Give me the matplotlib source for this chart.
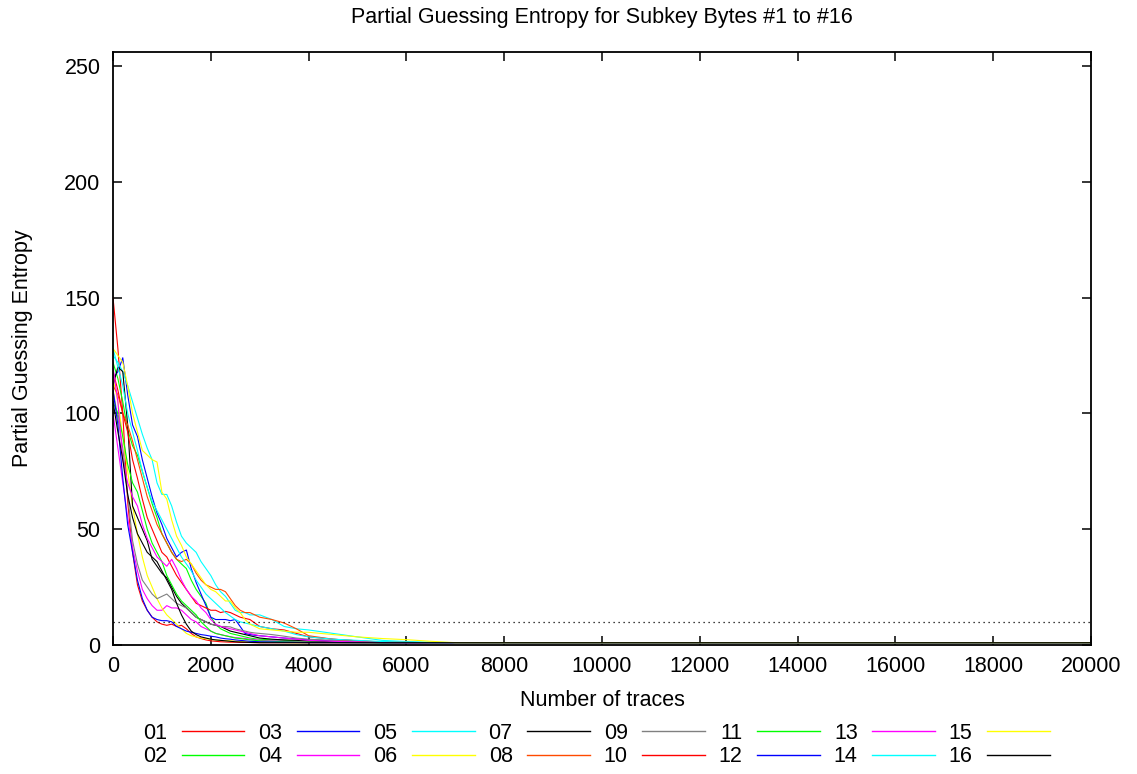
import matplotlib
matplotlib.use("Agg")
import matplotlib.pyplot as plt

# ---------------- data ----------------
traces = [0, 100, 200, 300, 400, 500, 600, 700, 800, 900,
          1000, 1100, 1200, 1300, 1400, 1500, 1600, 1700, 1800, 1900,
          2000, 2100, 2200, 2300, 2400, 2500, 2600, 2700, 2800, 2900,
          3000, 3250, 3500, 3750, 4000, 4500, 5000, 5500, 6000, 6500,
          7000, 20000]

pge_01 = [150, 128, 100, 62, 40, 26, 19, 15, 12, 10,
          9, 8.5, 9, 8, 8.5, 7, 5, 3.5, 2.8, 2.2,
          1.8, 1.6, 1.4, 1.3, 1.2, 1.2, 1.1, 1.1, 1.1, 1,
          1, 1, 1, 1, 1, 1, 1, 1, 1, 1, 1, 1]
pge_02 = [122, 115, 105, 93, 86, 82, 75, 68, 61, 55,
          48, 44, 40, 37, 35, 33, 28, 24, 21, 18,
          12, 9, 7, 6, 5, 4.5, 4, 3.5, 3, 2.7,
          2.5, 2.2, 2, 1.8, 1.5, 1.2, 1.1, 1, 1, 1, 1, 1]
pge_03 = [115, 118, 124, 108, 95, 90, 80, 72, 64, 57,
          52, 46, 42, 38, 40, 41, 33, 27, 22, 17,
          12, 11, 11, 11, 10.5, 11, 8, 5, 4.5, 4.2,
          4, 3.5, 3, 2.6, 2.2, 1.8, 1.4, 1.1, 1, 1, 1, 1]
pge_04 = [100, 85, 70, 55, 42, 32, 24, 20, 17, 15,
          15, 17, 16, 16, 15, 13, 11, 10, 8, 7,
          6, 5, 4.5, 4, 3.6, 3.2, 3, 2.8, 2.5, 2.3,
          2, 1.8, 1.6, 1.4, 1.3, 1.1, 1, 1, 1, 1, 1, 1]
pge_05 = [125, 122, 118, 112, 105, 98, 91, 85, 80, 70,
          65, 65, 60, 53, 47, 44, 42, 40, 36, 33,
          30, 26, 23, 21, 18, 15, 14, 14, 13, 13,
          13, 11, 8, 7, 6.5, 5, 3.5, 2, 1.5, 1.2, 1, 1]
pge_06 = [115, 105, 90, 75, 60, 48, 38, 30, 25, 20,
          16, 13, 11, 9, 7, 5, 4, 3.5, 3, 2.7,
          2.4, 2.2, 2, 1.9, 1.8, 1.7, 1.6, 1.5, 1.4, 1.4,
          1.3, 1.2, 1.1, 1, 1, 1, 1, 1, 1, 1, 1, 1]
pge_07 = [112, 120, 118, 95, 60, 55, 50, 45, 37, 34,
          31, 29, 25, 21, 18, 16, 14, 12, 11, 10,
          9, 8.5, 8, 7, 6, 5.5, 5, 4.5, 4, 3.5,
          3, 2.5, 2.2, 2, 1.8, 1.4, 1.2, 1, 1, 1, 1, 1]
pge_08 = [112, 108, 100, 95, 88, 80, 72, 64, 58, 52,
          48, 44, 40, 37, 36, 37, 35, 31, 28, 26,
          25, 24, 24, 23, 20, 17, 15, 14, 14, 13,
          12, 11, 9.5, 7, 4, 2.5, 1.8, 1.3, 1.1, 1, 1, 1]
pge_09 = [110, 98, 85, 65, 45, 35, 28, 25, 22, 20,
          21, 22, 20, 18, 17, 16, 14, 12, 11, 10,
          9, 8.5, 8, 8, 7.8, 7, 6.5, 6, 5.5, 5.2,
          5, 4.5, 3.8, 3, 2.5, 2, 1.5, 1.2, 1, 1, 1, 1]
pge_10 = [118, 110, 100, 92, 80, 72, 63, 55, 50, 45,
          40, 38, 34, 30, 27, 24, 21, 18, 17, 16,
          15, 15, 14, 14.5, 14, 13, 12, 11.5, 11, 9.5,
          8, 7, 6.5, 5, 3.5, 2.5, 1.8, 1.3, 1.1, 1, 1, 1]
pge_11 = [105, 100, 90, 78, 70, 66, 58, 50, 44, 40,
          36, 30, 26, 22, 19, 17, 15, 13, 10, 8,
          6, 5, 4.5, 4, 3.5, 3, 2.8, 2.5, 2.2, 2,
          1.8, 1.6, 1.4, 1.3, 1.2, 1.1, 1, 1, 1, 1, 1, 1]
pge_12 = [110, 95, 72, 52, 40, 28, 20, 15, 12, 11,
          10.5, 10.5, 10, 8, 7, 6, 5.5, 5, 4.5, 4.2,
          3.8, 3.5, 3, 2.7, 2.5, 2.2, 2, 1.8, 1.6, 1.5,
          1.4, 1.3, 1.2, 1.1, 1, 1, 1, 1, 1, 1, 1, 1]
pge_13 = [120, 105, 80, 70, 64, 60, 52, 46, 42, 38,
          36, 34, 37, 33, 28, 24, 21, 19, 16, 14,
          11, 9, 8, 7.5, 7, 6.5, 6, 5.5, 5, 4.5,
          4, 3.5, 3, 2.5, 2, 1.6, 1.3, 1.1, 1, 1, 1, 1]
pge_14 = [128, 120, 112, 100, 92, 84, 75, 68, 62, 58,
          54, 50, 46, 42, 38, 35, 32, 28, 25, 22,
          20, 18, 16, 14, 12.5, 11, 10, 9.5, 9, 8.5,
          8, 7, 6, 4.5, 3.5, 2.5, 2, 1.5, 1.2, 1, 1, 1]
pge_15 = [128, 125, 122, 112, 100, 92, 84, 82, 80, 79,
          66, 63, 54, 47, 43, 38, 35, 32, 29, 26,
          24, 23, 21, 19, 19, 16, 14, 11, 9, 8,
          7, 6.5, 6, 5.5, 5.5, 4.5, 3.5, 2.8, 2.3, 1.6, 1, 1]
pge_16 = [105, 92, 80, 65, 55, 48, 44, 40, 38, 36,
          32, 28, 24, 18, 13, 9, 6, 4.5, 3.5, 3,
          2.5, 2.2, 2, 1.8, 1.6, 1.4, 1.3, 1.2, 1.1, 1.1,
          1, 1, 1, 1, 1, 1, 1, 1, 1, 1, 1, 1]

series_labels = ["01", "02", "03", "04", "05", "06", "07", "08",
                 "09", "10", "11", "12", "13", "14", "15", "16"]
series_values = [pge_01, pge_02, pge_03, pge_04, pge_05, pge_06, pge_07, pge_08,
                 pge_09, pge_10, pge_11, pge_12, pge_13, pge_14, pge_15, pge_16]
threshold = 10

x_ticks = [0, 2000, 4000, 6000, 8000, 10000, 12000, 14000, 16000, 18000, 20000]
y_ticks = [0, 50, 100, 150, 200, 250]

# ---------------- style ----------------
series_colors = ["#ff0000", "#00ff00", "#0000ff", "#ff00ff", "#00ffff", "#ffff00",
                 "#000000", "#ff4a00", "#808080", "#ff0000", "#00ff00", "#0000ff",
                 "#ff00ff", "#00ffff", "#ffff00", "#000000"]

plt.rcParams['font.family'] = ['Liberation Sans', 'DejaVu Sans']
FS = 15.5

fig = plt.figure(figsize=(11.37, 7.74), dpi=100)
W, H = 1137, 774
L, R, T, B = 113, 1091, 52, 645
ax = fig.add_axes([L / W, 1 - B / H, (R - L) / W, (B - T) / H])

for lab, vals, col in zip(series_labels, series_values, series_colors):
    ax.plot(traces, vals, color=col, lw=0.8, label=lab)

ax.axhline(threshold, color="black", lw=0.9, ls=(0, (1, 3)))

ax.set_xlim(0, 20000)
ax.set_ylim(0, 256)
ax.set_xticks(x_ticks)
ax.set_yticks(y_ticks)
ax.tick_params(axis="both", direction="in", length=6.5, width=1.1,
               top=True, right=True, labelsize=FS)
ax.tick_params(axis="x", pad=8)
ax.tick_params(axis="y", pad=9)
for sp in ax.spines.values():
    sp.set_linewidth(1.3)

ax.set_title("Partial Guessing Entropy for Subkey Bytes #1 to #16", fontsize=FS, pad=21)
ax.set_xlabel("Number of traces", fontsize=FS)
ax.set_ylabel("Partial Guessing Entropy", fontsize=FS)
ax.xaxis.set_label_coords(0.5, (B - 690) / (B - T))
ax.yaxis.set_label_coords((33 - L) / (R - L), 0.5)

leg = fig.legend(loc="upper left", bbox_to_anchor=(143 / W, 1 - 723 / H),
                 ncol=8, frameon=False, fontsize=FS, markerfirst=False,
                 handlelength=2.9, handletextpad=0.68, columnspacing=0.65,
                 labelspacing=0.1, borderpad=0, borderaxespad=0)
for line in leg.get_lines():
    line.set_linewidth(1.0)

fig.savefig("out.png", dpi=100)
